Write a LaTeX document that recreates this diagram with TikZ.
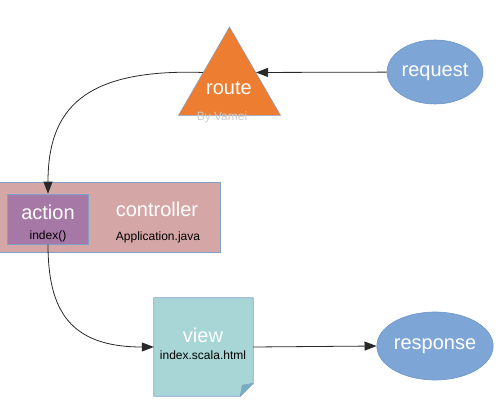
\documentclass[tikz,border=0pt]{standalone}
\usepackage{fontspec}
\setmainfont{Liberation Sans}
\usetikzlibrary{shapes.geometric,arrows.meta,calc}
\definecolor{orangeT}{RGB}{237,125,49}
\definecolor{ellBlue}{RGB}{125,166,214}
\definecolor{ellBorder}{RGB}{110,150,200}
\definecolor{ctrlFill}{RGB}{213,166,166}
\definecolor{actFill}{RGB}{165,120,165}
\definecolor{viewFill}{RGB}{168,214,214}
\definecolor{edgeBlue}{RGB}{127,160,200}
\definecolor{foldFill}{RGB}{120,175,190}
\definecolor{lineGrey}{RGB}{40,40,40}
\tikzset{
  big/.style={font=\fontsize{20}{24}\selectfont, text=white, inner sep=0pt},
  small/.style={font=\fontsize{12}{14}\selectfont, text=black, inner sep=0pt},
  ellnode/.style={ellipse, fill=ellBlue, draw=ellBorder, line width=0.6pt, inner sep=0pt, big},
  boxnode/.style={rectangle, draw=edgeBlue, line width=0.7pt, inner sep=0pt},
  conn/.style={draw=lineGrey, line width=0.8pt, -{Triangle[length=12pt,width=9pt]}}
}
\begin{document}
\begin{tikzpicture}[x=1pt,y=-1pt]
\useasboundingbox (0,0) rectangle (500,411);
% request
\node[ellnode, minimum width=96, minimum height=64] (request) at (435,72) {request};
% route triangle
\node[regular polygon, regular polygon sides=3, minimum size=118, inner sep=0pt,
      fill=orangeT, draw=edgeBlue, line width=0.5pt] (route) at (229.5,86) {};
\node[big] (routeT) at (229,88) {route};
\node[font=\fontsize{12}{14}\selectfont, text=black!20, inner sep=0pt] (byv) at (222,117) {By Vamei};
% controller
\node[boxnode, fill=ctrlFill, minimum width=226, minimum height=70] (controller) at (107,217) {};
\node[big] (ctrlT) at (157,209) {controller};
\node[small] (ctrlS) at (158,237) {Application.java};
% action
\node[boxnode, fill=actFill, minimum width=81, minimum height=50] (action) at (48,219) {};
\node[big] (actT) at (48,212) {action};
\node[small] (actS) at (48,236) {index()};
% view (note)
\node[minimum width=99, minimum height=98, inner sep=0pt] (view) at (203.5,347) {};
\filldraw[fill=viewFill, draw=edgeBlue, line width=0.7pt]
  (view.north west) -- (view.north east) -- ($(view.south east)+(0,-13)$)
  -- ($(view.south east)+(-13,0)$) -- (view.south west) -- cycle;
\filldraw[fill=foldFill, draw=edgeBlue, line width=0.5pt]
  ($(view.south east)+(-13,0)$) -- ($(view.south east)+(0,-13)$) -- ($(view.south east)+(-11,-11)$) -- cycle;
\node[big] (viewT) at (203,335) {view};
\node[small] (viewS) at (203,355) {index.scala.html};
% response
\node[ellnode, minimum width=96, minimum height=68] (response) at (435,346) {response};
% connectors
\draw[conn] (request) -- (route.27);
\draw[conn] (route.153) .. controls +(-120,-4) and +(0,-84) .. (action.north);
\draw[conn] (action.south) .. controls +(0,66) and +(-84,0) .. (view.west);
\draw[conn] (view.east) -- (response.west);
\end{tikzpicture}
\end{document}
